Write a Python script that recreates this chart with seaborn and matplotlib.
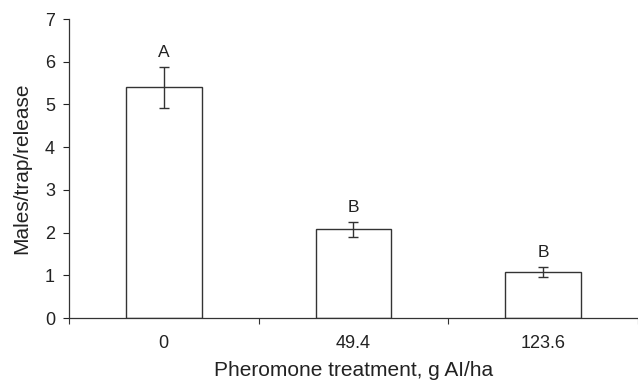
import matplotlib
matplotlib.use("Agg")
import matplotlib.pyplot as plt
import pandas as pd
import numpy as np
import seaborn as sns

# data
treatments = ["0", "49.4", "123.6"]
means = [5.40, 2.08, 1.08]
errors = [0.48, 0.18, 0.11]
letters = ["A", "B", "B"]

df = pd.DataFrame({"treatment": treatments, "males": means})

sns.set_style("ticks")
plt.rcParams["font.family"] = ["Liberation Sans", "DejaVu Sans"]
plt.rcParams["text.color"] = "#222222"
plt.rcParams["axes.labelcolor"] = "#222222"
plt.rcParams["xtick.color"] = "#222222"
plt.rcParams["ytick.color"] = "#222222"

fig = plt.figure(figsize=(6.38, 3.8), dpi=100)
ax = fig.add_axes([0.108, 0.163, 0.892, 0.787])

sns.barplot(data=df, x="treatment", y="males", order=treatments, color="white",
            edgecolor="#333333", linewidth=1.0, width=0.4, errorbar=None, ax=ax)

pos = np.arange(len(treatments))
ax.errorbar(pos, means, yerr=errors, fmt="none", ecolor="#333333",
            elinewidth=1.0, capsize=3.5, capthick=1.0)
for p, m, e, l in zip(pos, means, errors, letters):
    ax.text(p, m + e + 0.16, l, ha="center", va="bottom", fontsize=12.5)

ax.set_xlim(-0.5, len(treatments) - 0.5)
ax.set_ylim(0, 7)
ax.set_yticks(range(0, 8))
ax.set_ylabel("Males/trap/release", fontsize=15, labelpad=10)
ax.set_xlabel("Pheromone treatment, g AI/ha", fontsize=15, labelpad=7)
ax.tick_params(axis="x", which="major", length=0, labelsize=13, pad=12)
ax.set_xticks(np.arange(-0.5, len(treatments) + 0.5, 1.0), minor=True)
ax.tick_params(axis="x", which="minor", length=4, width=0.8, color="#333333")
ax.tick_params(axis="y", length=4, width=0.8, labelsize=13, pad=6)
for s in ["top", "right"]:
    ax.spines[s].set_visible(False)
for s in ["left", "bottom"]:
    ax.spines[s].set_linewidth(0.9)
    ax.spines[s].set_color("#333333")

fig.savefig("out.png", dpi=100)
